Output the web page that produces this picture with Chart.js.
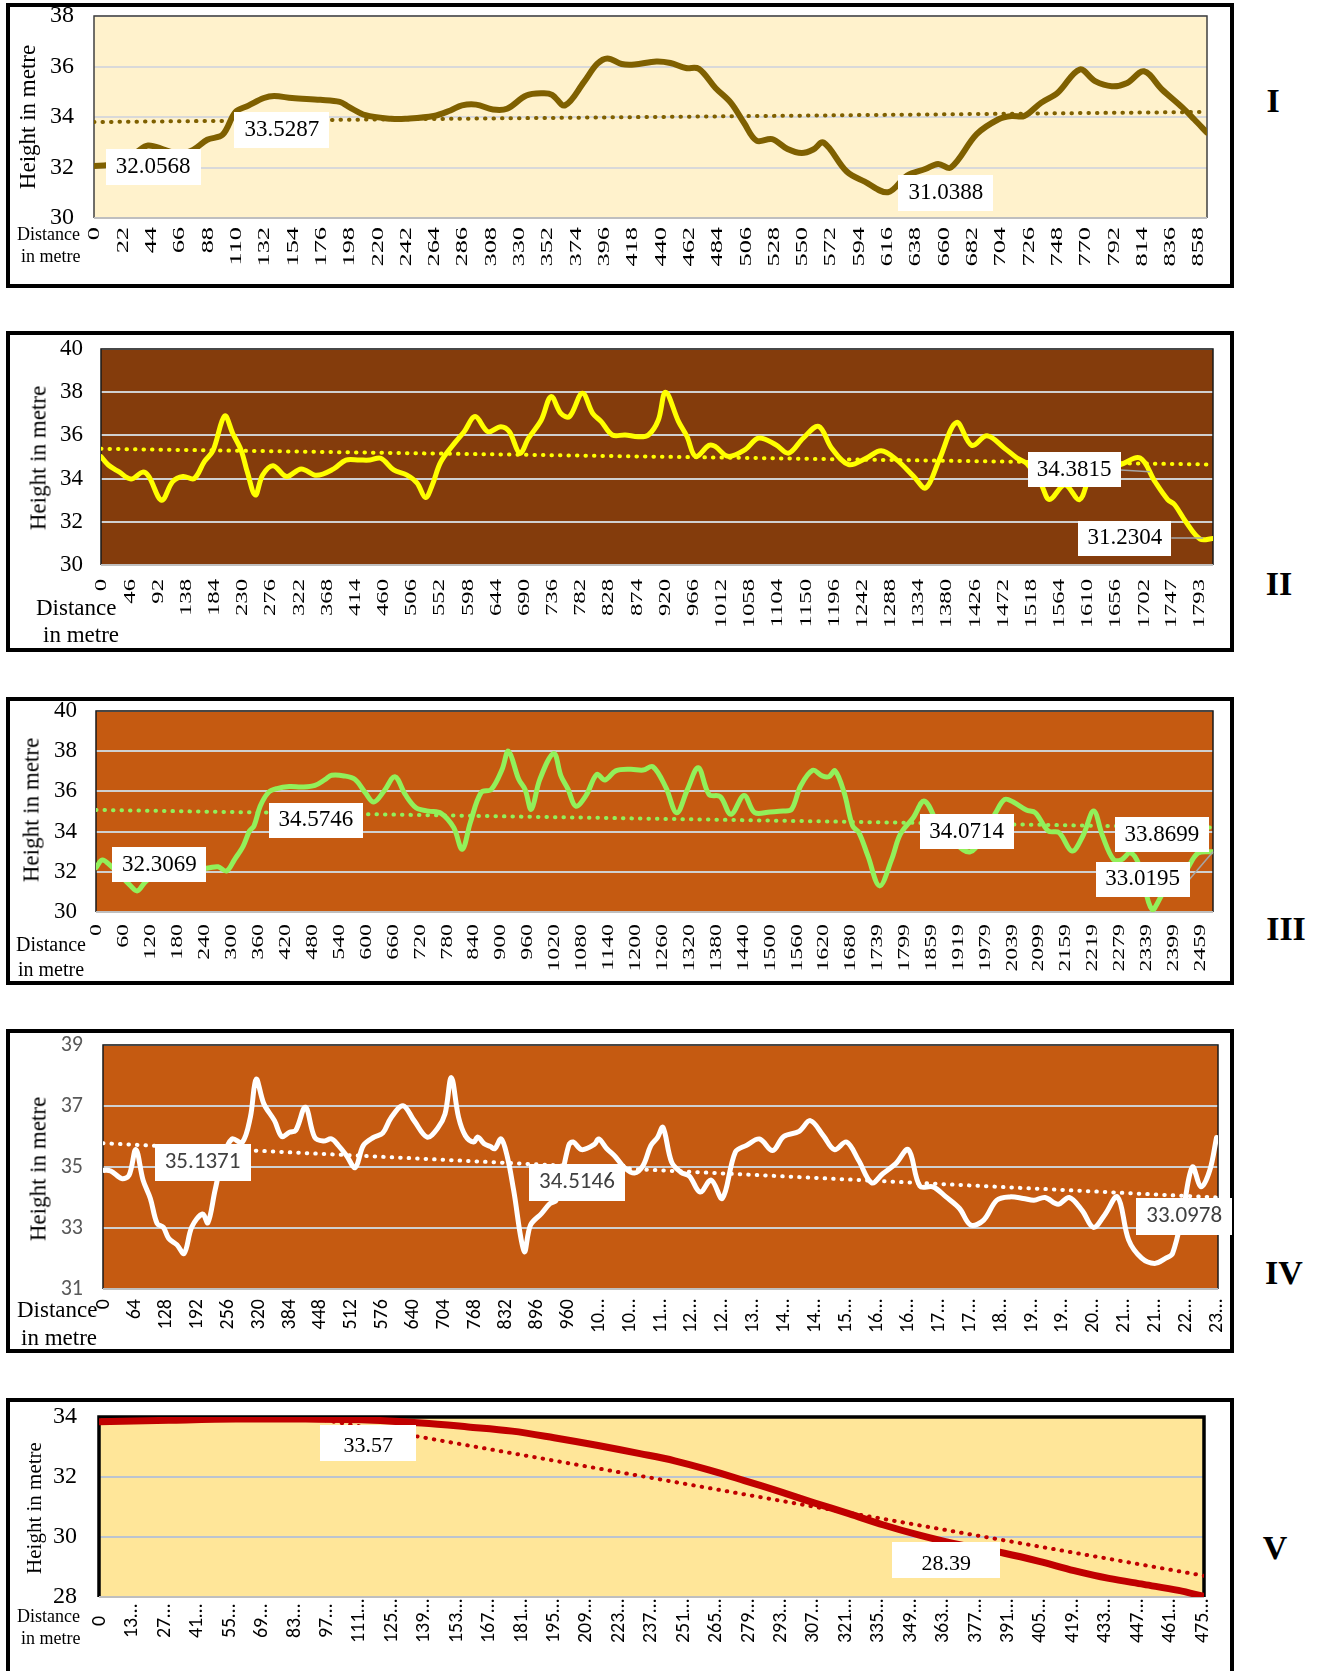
<!DOCTYPE html>
<html>
<head>
<meta charset="utf-8">
<script src="https://cdn.jsdelivr.net/npm/chart.js@4.4.1/dist/chart.umd.min.js"></script>
<style>
  html, body { margin:0; padding:0; background:#fff; }
  #page { position:relative; width:1317px; height:1671px; overflow:hidden; background:#fff; }
  .frame { position:absolute; left:6px; width:1228px; border:4px solid #000; box-sizing:border-box; }
  canvas { position:absolute; left:6px; }
  .txt { position:absolute; font-family:'Liberation Serif','Times New Roman',serif; color:#000; white-space:nowrap; line-height:1; }
  .ytitle { transform:translate(-50%,-50%) rotate(-90deg); }
  .roman { font-weight:bold; font-size:34px; transform:translate(-50%,-50%); }
  .dist { transform:translateY(-50%); }
</style>
</head>
<body>
<div id="page"></div>
<script>
// ===== DATA =====
// Panel I
const I_dist = [0,11,22,33,42,55,66,77,88,100,110,120,132,140,154,176,191,198,211,231,242,264,277,286,297,310,321,336,349,356,366,381,391,399,410,420,437,448,460,470,483,495,505,515,527,539,550,559,567,585,599,617,632,646,656,666,686,703,713,723,736,749,766,778,791,803,816,830,846,855,865];
const I_height = [32.06,32.1,32.25,32.6,32.87,32.7,32.55,32.7,33.1,33.3,34.2,34.45,34.75,34.83,34.75,34.68,34.6,34.4,34.07,33.93,33.93,34.04,34.26,34.46,34.49,34.3,34.33,34.85,34.94,34.88,34.46,35.4,36.1,36.32,36.1,36.08,36.2,36.14,35.94,35.91,35.15,34.56,33.78,33.06,33.12,32.73,32.57,32.71,32.99,31.84,31.44,31.02,31.68,31.94,32.14,32.0,33.32,33.91,34.04,34.04,34.56,34.96,35.88,35.42,35.22,35.35,35.81,35.09,34.37,33.91,33.38];
const I_trend = [33.8, 34.2];
const I_ticks = [0,22,44,66,88,110,132,154,176,198,220,242,264,286,308,330,352,374,396,418,440,462,484,506,528,550,572,594,616,638,660,682,704,726,748,770,792,814,836,858];
const I_labelText = ['32.0568','33.5287','31.0388'];
const I_labelX = [46, 146, 662];
const I_labelY = [32.02, 33.47, 31.0];

// Panel II
const II_dist = [0,12,29,49,68,78,99,117,134,152,169,183,202,215,229,239,252,264,281,303,327,352,380,400,422,439,457,478,499,516,530,541,555,579,593,611,632,653,667,684,698,719,735,751,765,786,803,817,835,856,877,894,910,922,943,957,971,993,1003,1024,1052,1074,1102,1123,1147,1172,1193,1221,1250,1274,1299,1327,1347,1369,1397,1422,1447,1475,1496,1512,1535,1549,1574,1598,1616,1640,1665,1697,1721,1742,1753,1771,1795,1816];
const II_height = [35.02,34.63,34.32,33.98,34.3,34.1,33.0,33.86,34.1,34.0,34.8,35.3,36.9,36.1,35.3,34.3,33.24,34.17,34.6,34.1,34.45,34.15,34.45,34.86,34.86,34.86,34.94,34.4,34.17,33.8,33.12,33.7,34.78,35.7,36.17,36.87,36.17,36.4,36.17,35.17,35.86,36.71,37.8,37.02,36.87,37.95,37.02,36.64,36.02,36.02,35.94,36.02,36.7,38.0,36.65,35.95,35.03,35.54,35.49,35.03,35.34,35.88,35.57,35.18,35.88,36.42,35.42,34.65,34.95,35.29,34.88,34.11,33.57,34.88,36.6,35.54,35.98,35.42,34.95,34.7,33.75,33.03,33.72,33.03,34.11,34.45,34.65,34.95,33.87,33.03,32.8,32.03,31.2,31.23];
const II_trend = [35.38, 34.65];
const II_ticks = [0,46,92,138,184,230,276,322,368,414,460,506,552,598,644,690,736,782,828,874,920,966,1012,1058,1104,1150,1196,1242,1288,1334,1380,1426,1472,1518,1564,1610,1656,1702,1747,1793];
const II_labelText = ['34.3815','31.2304'];
const II_labelX = [1589, 1672];
const II_labelY = [34.4, 31.25];
const II_leaderX = [1713, 1800];
const II_leaderY = [34.32, 31.25];

// Panel III
const III_dist = [0,14,33,55,75,92,110,135,170,210,253,272,291,309,328,342,352,366,384,403,431,459,488,511,525,553,577,600,619,642,666,689,713,741,769,797,816,834,858,881,905,919,942,956,970,989,1020,1036,1052,1069,1092,1116,1134,1158,1191,1219,1241,1270,1294,1318,1342,1366,1391,1415,1444,1468,1502,1531,1550,1570,1597,1618,1633,1647,1667,1686,1700,1720,1746,1773,1792,1821,1846,1880,1910,1947,1975,2005,2025,2044,2073,2093,2122,2146,2175,2199,2223,2243,2267,2285,2305,2325,2353,2380,2426,2455,2489];
const III_height = [32.2,32.59,32.29,31.8,31.35,31.05,31.5,31.9,32.1,32.05,32.2,32.25,32.04,32.62,33.28,34.03,34.28,35.27,35.94,36.14,36.24,36.22,36.3,36.6,36.8,36.77,36.6,35.94,35.47,36.02,36.73,35.85,35.19,35.02,34.91,34.2,33.12,34.44,35.94,36.1,37.1,38.0,36.6,36.1,35.11,36.6,37.89,36.77,36.1,35.27,35.8,36.85,36.57,37.02,37.1,37.06,37.23,36.19,34.94,36.1,37.18,35.85,35.74,34.86,35.8,34.94,34.98,35.02,35.11,36.27,37.05,36.77,36.73,37.02,35.94,34.28,33.95,32.79,31.3,32.62,33.86,34.69,35.52,34.2,33.5,32.99,33.7,34.95,35.6,35.47,35.07,34.94,34.03,33.95,33.03,33.78,35.02,33.78,32.62,32.6,32.95,32.3,30.13,31.0,31.96,32.92,33.0];
const III_trend = [35.08, 34.2];
const III_ticks = [0,60,120,180,240,300,360,420,480,540,600,660,720,780,840,900,960,1020,1080,1140,1200,1260,1320,1380,1440,1500,1560,1620,1680,1739,1799,1859,1919,1979,2039,2099,2159,2219,2279,2339,2399,2459];
const III_labelText = ['32.3069','34.5746','34.0714','33.8699','33.0195'];
const III_labelX = [141, 490, 1940, 2375, 2332];
const III_labelY = [32.34, 34.56, 34.0, 33.85, 31.63];
const III_leaderX = [null, null, null, null, 2489];
const III_leaderY = [null, null, null, null, 33.0];

// Panel IV
const IV_dist = [0,16,39,54,68,83,98,112,125,136,153,168,184,206,217,232,248,267,288,305,317,333,355,370,386,399,419,438,456,473,487,504,522,539,561,579,596,621,644,671,693,708,721,736,750,767,776,789,802,811,824,837,850,872,885,908,925,938,964,973,991,1017,1026,1043,1061,1078,1100,1118,1134,1148,1159,1177,1196,1214,1236,1259,1282,1309,1332,1359,1386,1409,1441,1464,1491,1514,1539,1564,1591,1614,1641,1667,1691,1718,1745,1773,1796,1823,1850,1877,1905,1927,1950,1977,2000,2027,2050,2073,2100,2123,2150,2177,2200,2214,2235,2255,2273,2291,2305];
const IV_height = [34.89,34.87,34.62,34.73,35.57,34.57,33.97,33.15,33.02,32.66,32.45,32.17,33.04,33.46,33.17,34.24,35.3,35.92,35.8,36.63,37.88,37.07,36.52,36.0,36.14,36.2,36.96,35.98,35.85,35.92,35.71,35.38,34.98,35.71,35.98,36.11,36.61,37.01,36.52,35.98,36.28,36.74,37.93,36.63,36.03,35.82,35.98,35.76,35.67,35.6,35.92,35.33,34.24,32.23,33.1,33.48,33.8,33.91,35.71,35.82,35.57,35.74,35.92,35.6,35.33,35.0,34.8,35.05,35.7,35.97,36.3,35.16,34.83,34.7,34.18,34.57,33.97,35.49,35.71,35.92,35.54,36.0,36.17,36.52,36.03,35.57,35.82,35.22,34.48,34.78,35.11,35.57,34.37,34.35,34.02,33.64,33.1,33.26,33.91,34.02,33.97,33.91,34.0,33.78,34.0,33.57,33.02,33.42,34.02,32.61,32.01,31.84,32.01,32.17,33.5,35.0,34.35,34.89,35.97];
const IV_trend = [35.78, 34.0];
const IV_ticks = [0,64,128,192,256,320,384,448,512,576,640,704,768,832,896,960,1024,1088,1152,1216,1280,1344,1408,1472,1536,1600,1664,1728,1792,1856,1920,1984,2048,2112,2176,2240,2304];
const IV_tickText = ['0','64','128','192','256','320','384','448','512','576','640','704','768','832','896','960','10…','10…','11…','12…','12…','13…','14…','14…','15…','16…','16…','17…','17…','18…','19…','19…','20…','21…','21…','22…','23…'];
const IV_labelText = ['35.1371','34.5146','33.0978'];
const IV_labelX = [206, 981, 2238];
const IV_labelY = [35.14, 34.49, 33.37];

// Panel V
const V_dist = [0,30,59,89,113,139,159,178,196,215,233,248,263,278,293,308,323,338,353,368,390,405,420,435,450,465,476];
const V_height = [33.84,33.89,33.93,33.93,33.91,33.8,33.67,33.53,33.31,33.05,32.78,32.54,32.23,31.88,31.52,31.14,30.78,30.4,30.07,29.79,29.46,29.19,28.88,28.62,28.42,28.22,28.02];
const V_trend = [35.23, 28.71];
const V_ticks = [0,13.97,27.94,41.91,55.88,69.85,83.82,97.79,111.76,125.73,139.7,153.67,167.64,181.61,195.58,209.55,223.52,237.49,251.46,265.43,279.4,293.37,307.34,321.31,335.28,349.25,363.22,377.19,391.16,405.13,419.1,433.07,447.04,461.01,474.98];
const V_tickText = ['0','13…','27…','41…','55…','69…','83…','97…','111…','125…','139…','153…','167…','181…','195…','209…','223…','237…','251…','265…','279…','293…','307…','321…','335…','349…','363…','377…','391…','405…','419…','433…','447…','461…','475…'];
const V_labelText = ['33.57','28.39'];
const V_labelX = [116, 365];
const V_labelY = [33.15, 29.22];

// ===== STYLE =====
const SERIF = "'Liberation Serif', 'Times New Roman', serif";
const SANS = "Carlito, Lato, 'Liberation Sans', sans-serif";
const page = document.getElementById('page');

function addText(cls, text, left, top, size) {
  const d = document.createElement('div');
  d.className = 'txt ' + cls;
  d.textContent = text;
  d.style.left = left + 'px';
  d.style.top = top + 'px';
  d.style.fontSize = size + 'px';
  page.appendChild(d);
}

// plot background, plot frame, boxed data labels, stretched x labels
function makeDeco(p) {
  return {
    id: 'deco' + p.name,
    beforeDraw(chart) {
      const a = chart.chartArea, ctx = chart.ctx;
      ctx.save();
      ctx.fillStyle = p.bg;
      ctx.fillRect(a.left, a.top, a.right - a.left, a.bottom - a.top);
      ctx.restore();
    },
    beforeDatasetsDraw(chart) {
      const a = chart.chartArea, ctx = chart.ctx;
      ctx.save();
      ctx.lineWidth = p.frameWidth;
      ctx.strokeStyle = p.frameColor;
      ctx.beginPath();
      ctx.moveTo(a.left, a.bottom);
      ctx.lineTo(a.left, a.top);
      ctx.lineTo(a.right, a.top);
      ctx.lineTo(a.right, a.bottom);
      ctx.stroke();
      ctx.lineWidth = 2;
      ctx.strokeStyle = '#BFBFBF';
      ctx.beginPath();
      ctx.moveTo(a.left, a.bottom);
      ctx.lineTo(a.right, a.bottom);
      ctx.stroke();
      ctx.restore();
    },
    afterDatasetsDraw(chart) {
      const xs = chart.scales.x, ys = chart.scales.y, ctx = chart.ctx;
      ctx.save();
      p.labelText.forEach((t, i) => {
        const cx = xs.getPixelForValue(p.labelX[i]);
        const cy = ys.getPixelForValue(p.labelY[i]);
        const w = p.boxW[i] || p.boxW[0], h = p.boxH;
        if (p.leaderX && p.leaderX[i] != null) {
          ctx.strokeStyle = '#A6A6A6';
          ctx.lineWidth = 1.5;
          ctx.beginPath();
          ctx.moveTo(cx + w / 2, cy);
          ctx.lineTo(xs.getPixelForValue(p.leaderX[i]), ys.getPixelForValue(p.leaderY[i]));
          ctx.stroke();
        }
        ctx.fillStyle = '#fff';
        ctx.fillRect(Math.round(cx - w / 2), Math.round(cy - h / 2), w, h);
        ctx.fillStyle = p.labelColor;
        ctx.font = p.labelFont;
        ctx.textAlign = 'center';
        ctx.textBaseline = 'middle';
        ctx.fillText(t, cx, cy + (p.textDy || 0));
      });
      ctx.restore();
    },
    afterDraw(chart) {
      // x tick labels, rotated and stretched along the text like the source
      const xs = chart.scales.x, a = chart.chartArea, ctx = chart.ctx;
      const text = p.tickText || p.ticks.map(String);
      ctx.save();
      ctx.fillStyle = '#000';
      ctx.font = p.xFont;
      ctx.textAlign = p.xAlign || 'right';
      ctx.textBaseline = 'middle';
      p.ticks.forEach((v, i) => {
        ctx.save();
        ctx.translate(xs.getPixelForValue(v) + p.xShift, a.bottom + p.xPad);
        ctx.rotate(-Math.PI / 2);
        ctx.scale(p.xStretch, 1);
        ctx.fillText(text[i], 0, 0);
        ctx.restore();
      });
      ctx.restore();
    }
  };
}

function makePanel(p) {
  const frame = document.createElement('div');
  frame.className = 'frame';
  frame.style.top = p.box[0] + 'px';
  frame.style.height = (p.frameBottom || p.box[1]) - p.box[0] + 'px';
  page.appendChild(frame);

  const canvas = document.createElement('canvas');
  canvas.width = 1228;
  canvas.height = p.box[1] - p.box[0];
  canvas.style.top = p.box[0] + 'px';
  page.appendChild(canvas);

  const pts = p.dist.map((d, i) => ({ x: d, y: p.height[i] }));
  const trendPts = [{ x: 0, y: p.trend[0] }, { x: p.xmax, y: p.trend[1] }];

  new Chart(canvas.getContext('2d'), {
    type: 'line',
    data: {
      datasets: [
        {
          data: trendPts,
          borderColor: p.lineColor,
          borderWidth: 4,
          borderDash: [0.5, 8],
          borderCapStyle: 'round',
          pointRadius: 0,
          tension: 0
        },
        {
          data: pts,
          borderColor: p.lineColor,
          borderWidth: p.lineWidth,
          borderCapStyle: 'round',
          borderJoinStyle: 'round',
          pointRadius: 0,
          tension: 0.35
        }
      ]
    },
    options: {
      responsive: false,
      animation: false,
      devicePixelRatio: 1,
      layout: { padding: { top: p.plot[1] - p.box[0], right: 1234 - p.plot[2], left: 0, bottom: 0 } },
      plugins: { legend: { display: false }, tooltip: { enabled: false } },
      scales: {
        x: {
          type: 'linear',
          min: 0,
          max: p.xmax,
          grid: { display: false },
          border: { display: false },
          afterBuildTicks: s => { s.ticks = p.ticks.map(v => ({ value: v })); },
          afterFit: s => { s.height = p.box[1] - p.plot[3]; s.paddingLeft = 0; s.paddingRight = 0; },
          ticks: { display: false }
        },
        y: {
          min: p.ymin,
          max: p.ymax,
          afterFit: s => { s.width = p.plot[0] - 6; s.paddingTop = 0; s.paddingBottom = 0; },
          grid: { color: p.gridColor, lineWidth: 2, drawTicks: false },
          border: { display: false },
          ticks: { stepSize: p.ystep, padding: p.yPad, color: p.yColor, font: p.yFont }
        }
      }
    },
    plugins: [makeDeco(p)]
  });

  // axis titles and panel number
  addText('ytitle', 'Height in metre', p.yTitle[0], p.yTitle[1], p.yTitle[2]);
  addText('dist', 'Distance', p.distPos[0], p.distPos[1], p.distPos[4]);
  addText('dist', 'in metre', p.distPos[2], p.distPos[3], p.distPos[4]);
  addText('roman', p.name, p.roman[0], p.roman[1], 34);
}

makePanel({
  name: 'I', box: [3, 288], plot: [94, 16, 1207, 218],
  dist: I_dist, height: I_height, trend: I_trend, xmax: 865,
  ticks: I_ticks, ymin: 30, ymax: 38, ystep: 2,
  labelText: I_labelText, labelX: I_labelX, labelY: I_labelY,
  bg: '#FFF2CC', lineColor: '#7F6000', lineWidth: 6, gridColor: '#D9D9D9',
  frameColor: '#404040', frameWidth: 1.5,
  xFont: '17px ' + SERIF, xStretch: 1.55, xPad: 9, xShift: 1,
  yFont: { family: SERIF, size: 24 }, yColor: '#000', yPad: 20,
  boxW: [95], boxH: 36, labelFont: '23px ' + SERIF, labelColor: '#000',
  yTitle: [27, 117, 23], distPos: [17, 234, 21, 256, 18], roman: [1273, 101]
});

makePanel({
  name: 'II', box: [331, 652], plot: [101, 349, 1213, 565],
  dist: II_dist, height: II_height, trend: II_trend, xmax: 1816,
  ticks: II_ticks, ymin: 30, ymax: 40, ystep: 2,
  labelText: II_labelText, labelX: II_labelX, labelY: II_labelY,
  leaderX: II_leaderX, leaderY: II_leaderY,
  bg: '#843C0C', lineColor: '#FFFF00', lineWidth: 5, gridColor: '#D0D0D0',
  frameColor: '#1a1a1a', frameWidth: 1.5,
  xFont: '17px ' + SERIF, xStretch: 1.45, xPad: 14, xShift: 1,
  yFont: { family: SERIF, size: 23 }, yColor: '#000', yPad: 18,
  boxW: [93], boxH: 35, labelFont: '23px ' + SERIF, labelColor: '#000',
  yTitle: [38, 458, 23], distPos: [36, 607, 43, 634, 23], roman: [1279, 584]
});

makePanel({
  name: 'III', box: [697, 985], plot: [96, 711, 1213, 912],
  dist: III_dist, height: III_height, trend: III_trend, xmax: 2489,
  ticks: III_ticks, ymin: 30, ymax: 40, ystep: 2,
  labelText: III_labelText, labelX: III_labelX, labelY: III_labelY,
  leaderX: III_leaderX, leaderY: III_leaderY,
  bg: '#C55A11', lineColor: '#92F05A', lineWidth: 5, gridColor: '#D0D0D0',
  frameColor: '#1a1a1a', frameWidth: 1.5,
  xFont: '17px ' + SERIF, xStretch: 1.4, xPad: 12, xShift: 1,
  yFont: { family: SERIF, size: 23 }, yColor: '#000', yPad: 19,
  boxW: [94], boxH: 35, labelFont: '23px ' + SERIF, labelColor: '#000',
  yTitle: [31, 810, 23], distPos: [16, 944, 18, 969, 20], roman: [1286, 929]
});

makePanel({
  name: 'IV', box: [1029, 1353], plot: [103, 1045, 1218, 1289],
  dist: IV_dist, height: IV_height, trend: IV_trend, xmax: 2308,
  ticks: IV_ticks, tickText: IV_tickText, ymin: 31, ymax: 39, ystep: 2,
  labelText: IV_labelText, labelX: IV_labelX, labelY: IV_labelY,
  bg: '#C55A11', lineColor: '#FFFFFF', lineWidth: 5, gridColor: '#D0D0D0',
  frameColor: '#1a1a1a', frameWidth: 1.5,
  xFont: '20px ' + SANS, xStretch: 1, xPad: 10, xShift: 1,
  yFont: { family: SANS, size: 22 }, yColor: '#595959', yPad: 20,
  boxW: [96], boxH: 37, labelFont: '23px ' + SANS, labelColor: '#404040',
  yTitle: [38, 1169, 23], distPos: [17, 1309, 21, 1337, 23], roman: [1284, 1273]
});

makePanel({
  name: 'V', box: [1398, 1671], frameBottom: 1700, plot: [99, 1417, 1204, 1597],
  dist: V_dist, height: V_height, trend: V_trend, xmax: 476,
  ticks: V_ticks, tickText: V_tickText, ymin: 28, ymax: 34, ystep: 2,
  labelText: V_labelText, labelX: V_labelX, labelY: V_labelY,
  bg: '#FFE699', lineColor: '#C00000', lineWidth: 7, gridColor: '#BCC4D0',
  frameColor: '#000', frameWidth: 3.5,
  xFont: '20px ' + SANS, xStretch: 1, xPad: 24, xShift: 1, xAlign: 'center',
  yFont: { family: SERIF, size: 24 }, yColor: '#000', yPad: 22,
  boxW: [96, 108], boxH: 36, labelFont: '22px ' + SERIF, labelColor: '#000', textDy: 4,
  yTitle: [34, 1508, 21], distPos: [17, 1616, 21, 1638, 18], roman: [1275, 1548]
});
</script>
</body>
</html>
